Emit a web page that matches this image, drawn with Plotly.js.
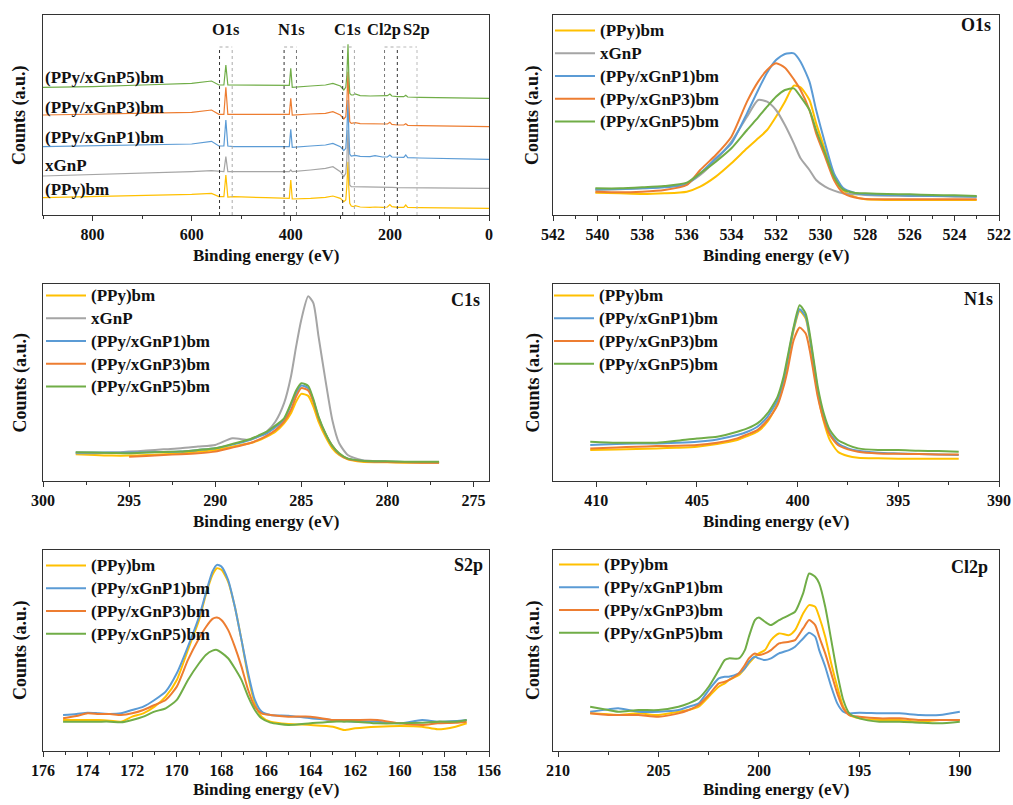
<!DOCTYPE html>
<html><head><meta charset="utf-8">
<script src="https://cdn.plot.ly/plotly-3.0.1.min.js"></script>
<style>html,body{margin:0;padding:0;background:#fff;}#chart{width:1013px;height:805px;}</style>
</head><body><div id="chart"></div>
<script>
// ---------- series names / colours ----------
const names = ['(PPy)bm','xGnP','(PPy/xGnP1)bm','(PPy/xGnP3)bm','(PPy/xGnP5)bm'];
const colors = ['#FFC000','#A5A5A5','#5B9BD5','#ED7D31','#70AD47'];

// ---------- survey (wide scan) ----------
const sv_eV  = [900,800,700,600,560,545,535,531,527,515,450,410,403,400,397,360,330,315,300,293,289,287,285.5,284.5,283,281,278,274,270,260,240,230,215,205,200,196,185,172,168,164,140,100,50,0];
const sv_PPy = [52,55,58,62,65,55,55,120,54,55,52,50,50,105,48,50,53,57,50,40,45,85,145,160,85,35,27,25,28,24,23,24,23,24,31,25,23,23,30,23,22,22,21,20];
const sv_xGnP= [117,121,125,130,133,130,130,175,130,130,130,130,130,135,130,135,140,145,130,115,125,165,235,255,175,90,85,85,85,84,83,83,83,83,83,83,82,82,82,82,81,81,80,80];
const sv_P1  = [205,207,210,213,221,207,207,285,207,205,205,205,205,257,203,207,210,215,205,193,200,245,315,345,255,183,177,177,179,176,175,178,174,174,180,174,173,173,180,172,171,170,169,167];
const sv_P3  = [300,302,305,308,315,302,302,383,302,302,302,302,302,350,300,303,305,310,300,288,295,335,405,430,345,280,275,275,277,274,273,273,272,273,278,272,270,270,274,269,268,267,266,265];
const sv_P5  = [383,385,390,395,402,390,390,450,390,390,390,389,389,440,383,387,390,395,387,375,383,415,485,512,425,365,360,360,363,358,357,357,357,358,363,357,355,355,359,354,353,352,351,350];

// ---------- O1s ----------
const o_eV   = [540.1,539,538,537,536,535.4,534.7,534,533.3,532.8,532.4,532,531.6,531.2,530.9,530.5,530.2,529.8,529.4,529,528.5,528,527,526,525,524,523];
const o_PPy  = [67,65,63,65,70,85,115,155,200,230,255,295,340,388,383,345,275,195,115,75,55,47,45,45,45,45,45];
const o_xGnP = [75,77,80,85,95,120,165,220,295,345,340,315,270,215,170,135,105,85,73,65,62,60,58,57,57,55,55];
const o_P1   = [77,78,80,83,92,125,170,215,305,375,427,465,483,485,460,400,315,215,125,82,67,62,60,58,57,57,55];
const o_P3   = [70,68,70,75,90,135,180,235,340,400,435,455,442,407,375,315,245,175,105,67,53,48,47,47,47,47,47];
const o_P5   = [80,80,83,87,97,125,160,200,255,293,325,355,375,380,355,315,255,185,115,77,67,65,63,62,60,59,57];

// ---------- C1s ----------
const c_eV   = [298.1,297,296,295,294,293,292,291,290,289,288,287.5,287,286.5,286,285.6,285.3,285,284.6,284.3,284,283.6,283.2,282.8,282.3,281.5,280,279,278,277];
const c_PPy  = [80,78,76,76,78,80,83,88,93,103,113,121,133,148,173,203,238,261,255,223,178,133,98,78,65,58,56,55,55,55];
const c_xGnP = [83,83,85,88,91,95,98,103,108,128,123,133,148,178,233,313,403,483,553,533,433,303,183,113,78,63,58,57,56,55];
const c_P1   = [85,85,85,85,86,87,88,93,98,109,123,133,143,161,183,228,263,286,278,241,191,141,105,81,67,61,58,57,57,57];
const c_P3   = [null,null,null,73,75,78,80,83,88,100,113,123,136,153,178,213,253,278,271,238,188,141,105,81,66,60,57,56,55,55];
const c_P5   = [86,85,84,83,85,87,88,93,98,111,125,136,148,166,188,233,271,293,285,245,193,143,105,83,67,61,59,58,58,58];

// ---------- N1s ----------
const n_eV   = [410.3,409,408,407,406,405,404,403,402.5,402,401.5,401,400.7,400.5,400.2,399.9,399.6,399.4,399.2,399,398.7,398.4,398,397.5,397,396,395,394,393,392];
const n_PPy  = [93,95,96,98,100,103,111,123,135,148,178,233,293,353,453,511,488,428,343,263,178,123,88,75,70,68,67,67,67,67];
const n_P1   = [108,111,113,113,115,118,125,138,148,163,193,243,303,363,458,516,493,433,353,273,193,143,113,98,91,85,83,81,80,78];
const n_P3   = [98,101,103,105,106,108,115,128,140,153,183,228,283,333,423,461,443,393,323,253,183,138,108,95,88,83,82,81,80,80];
const n_P5   = [118,115,115,115,121,128,133,148,158,173,203,253,313,373,463,528,503,443,363,283,203,153,123,108,98,93,93,91,90,88];

// ---------- S2p ----------
const s_eV   = [175.1,174.5,174,173.5,173,172.5,172,171.5,171,170.5,170,169.5,169,168.7,168.4,168.2,168,167.7,167.4,167.1,166.8,166.5,166.2,165.8,165,164,163,162.5,162,161,160,159,158.3,157.5,157];
const s_PPy  = [93,93,93,93,91,88,103,113,133,163,213,303,393,468,528,548,543,508,433,333,223,143,103,88,81,78,73,63,68,73,75,73,65,73,83];
const s_P1   = [108,111,115,113,111,113,123,133,153,178,233,313,403,473,538,558,553,513,433,333,233,153,118,108,106,98,93,90,88,88,83,93,88,90,93];
const s_P3   = [98,105,113,111,111,108,113,123,138,153,193,273,338,371,396,400,393,363,313,253,183,133,113,108,103,103,93,93,93,93,83,78,83,85,88];
const s_P5   = [88,88,88,88,88,86,93,103,118,128,153,213,263,288,301,303,295,278,248,213,163,123,98,85,78,83,88,88,88,83,83,85,88,88,93];

// ---------- Cl2p ----------
const l_eV   = [208.4,207.5,207,206,205,204,203.5,203,202.5,202,201.7,201.5,201,200.7,200.5,200.2,200,199.7,199.4,199,198.5,198.2,197.8,197.5,197.2,197,196.7,196.4,196.1,195.8,195.5,195,194,193,192,191,190];
const l_PPy  = [113,110,108,113,108,118,123,133,163,193,203,213,228,248,263,283,293,303,333,353,348,363,413,438,433,403,343,263,193,133,108,98,93,93,88,93,93];
const l_P1   = [118,125,128,118,118,123,133,143,183,218,223,223,233,248,268,283,278,273,278,293,303,313,338,355,343,303,253,193,143,118,113,115,113,113,108,108,118];
const l_P3   = [113,108,108,108,103,113,123,138,168,203,208,213,233,258,278,293,288,293,303,323,328,333,368,393,378,343,293,233,173,128,108,103,98,98,93,93,93];
const l_P5   = [133,123,118,123,123,133,143,158,193,243,273,278,278,303,343,393,401,388,378,393,408,418,473,533,523,503,433,333,233,153,113,98,88,88,85,83,88];

// ---------- tick / label texts ----------
const xTitle = 'Binding energy (eV)';
const yTitle = 'Counts (a.u.)';
const panelLabels = ['O1s','C1s','N1s','S2p','Cl2p'];
const surveyPeakLabels = [['O1s',531.6],['N1s',398],['C1s',285]];

// ================= build =================
const W = 1013, H = 805;
const FONT = 'Liberation Serif, Times New Roman, serif';
const TXT = '#111';
const fx = p => p / W, fy = p => 1 - p / H;

const traces = [];
function add(x, y, idx, ax, legend, opts) {
  opts = opts || {};
  traces.push({
    type: 'scatter', mode: 'lines', x: x, y: y,
    name: '<span style="font-size:17px">' + names[idx] + '</span>',
    line: { color: colors[idx], width: opts.width || 2, shape: opts.shape || 'spline', smoothing: 0.6 },
    xaxis: 'x' + ax, yaxis: 'y' + ax,
    showlegend: !!legend, legend: legend || 'legend',
    hoverinfo: 'skip'
  });
}
// survey
const svs = [sv_PPy, sv_xGnP, sv_P1, sv_P3, sv_P5];
svs.forEach((s, i) => add(sv_eV, s, i, '', null, { width: 1.2, shape: 'linear' }));
// O1s
[o_PPy, o_xGnP, o_P1, o_P3, o_P5].forEach((s, i) => add(o_eV, s, i, '2', 'legend'));
// C1s
[c_PPy, c_xGnP, c_P1, c_P3, c_P5].forEach((s, i) => add(c_eV, s, i, '3', 'legend2'));
// N1s
[[n_PPy,0],[n_P1,2],[n_P3,3],[n_P5,4]].forEach(p => add(n_eV, p[0], p[1], '4', 'legend3'));
// S2p
[[s_PPy,0],[s_P1,2],[s_P3,3],[s_P5,4]].forEach(p => add(s_eV, p[0], p[1], '5', 'legend4'));
// Cl2p
[[l_PPy,0],[l_P1,2],[l_P3,3],[l_P5,4]].forEach(p => add(l_eV, p[0], p[1], '6', 'legend5'));
// fix first survey axis id
traces.forEach(t => { if (t.xaxis === 'x') {} });

const LEFT = [43, 489], RIGHT = [553, 999];
const ROWS = [[15, 215], [284, 481], [549.5, 751]];

function xa(col, row, range, dtick, minor, anchor) {
  return {
    domain: [fx(col[0]), fx(col[1])], range: range, autorange: false,
    tick0: 0, dtick: dtick, ticks: 'outside', ticklen: 5, tickwidth: 1, tickcolor: '#333',
    showline: true, linecolor: '#333', linewidth: 1, mirror: true,
    showgrid: false, zeroline: false, anchor: anchor,
    tickfont: { size: 16, color: TXT, family: FONT, weight: 'bold' },
    minor: { tick0: 0, dtick: minor, ticks: 'outside', ticklen: 3, tickwidth: 1, tickcolor: '#333', showgrid: false }
  };
}
function ya(row, top, anchor) {
  return {
    domain: [fy(row[1]), fy(row[0])], range: [0, top], autorange: false,
    showticklabels: false, ticks: '', showline: true, linecolor: '#333', linewidth: 1,
    mirror: true, showgrid: false, zeroline: false, anchor: anchor
  };
}

function legendAt(xpx, ypx) {
  return { x: fx(xpx), y: fy(ypx), xanchor: 'left', yanchor: 'top', bgcolor: 'rgba(0,0,0,0)',
    borderwidth: 0, itemwidth: 40, traceorder: 'normal', tracegroupgap: 0,
    font: { size: 15.2, color: TXT, family: FONT, weight: 'bold' } };
}

const ann = [];
const LC = 266, RC = 776;
[[LC, 255], [RC, 255], [LC, 521], [RC, 521], [LC, 789], [RC, 789]].forEach(p => ann.push({
  text: xTitle, xref: 'paper', yref: 'paper', x: fx(p[0]), y: fy(p[1]), showarrow: false,
  xanchor: 'center', yanchor: 'middle', font: { size: 17, color: TXT, family: FONT, weight: 'bold' }
}));
[[20, 115], [533, 115], [20, 382.5], [533, 382.5], [20, 650], [533, 650]].forEach(p => ann.push({
  text: yTitle, xref: 'paper', yref: 'paper', x: fx(p[0]), y: fy(p[1]), showarrow: false, textangle: -90,
  xanchor: 'center', yanchor: 'middle', font: { size: 18, color: TXT, family: FONT, weight: 'bold' }
}));
// panel labels
[[993, 25], [482, 300], [995, 299], [485, 565], [990, 567]].forEach((p, i) => ann.push({
  text: panelLabels[i], xref: 'paper', yref: 'paper', x: fx(p[0]), y: fy(p[1]), showarrow: false,
  xanchor: 'right', yanchor: 'middle', font: { size: 18, color: TXT, family: FONT, weight: 'bold' }
}));
// survey curve labels
const svLabelY = [78, 150, 234, 324, 414];
names.forEach((n, i) => ann.push({
  text: n, xref: 'paper', yref: 'y', x: fx(43), y: svLabelY[i], showarrow: false,
  xanchor: 'left', yanchor: 'middle', font: { size: 17, color: TXT, family: FONT, weight: 'bold' }
}));
// survey peak labels
surveyPeakLabels.forEach(p => ann.push({
  text: p[0], xref: 'x', yref: 'y', x: p[1], y: 558, showarrow: false,
  xanchor: 'center', yanchor: 'middle', font: { size: 16.5, color: TXT, family: FONT, weight: 'bold' }
}));
ann.push({ text: 'Cl2p', xref: 'x', yref: 'y', x: 176.3, y: 558, showarrow: false, xanchor: 'right', borderpad: 0,
  yanchor: 'middle', font: { size: 16.5, color: TXT, family: FONT, weight: 'bold' } });
ann.push({ text: 'S2p', xref: 'x', yref: 'y', x: 176.3, y: 558, showarrow: false, xanchor: 'left', borderpad: 0,
  yanchor: 'middle', font: { size: 16.5, color: TXT, family: FONT, weight: 'bold' } });

// survey dotted windows
const shapes = [];
const TOP = 504;
function vline(x, color) { shapes.push({ type: 'line', xref: 'x', yref: 'y', x0: x, x1: x, y0: 0, y1: TOP, line: { color: color, width: 1, dash: 'dot' } }); }
function hline(a, b, color) { shapes.push({ type: 'line', xref: 'x', yref: 'y', x0: a, x1: b, y0: TOP, y1: TOP, line: { color: color, width: 1, dash: 'dot' } }); }
const DARK = '#333', LIGHT = '#aaa';
vline(543.8, DARK); vline(518.2, LIGHT); hline(543.8, 518.2, LIGHT);
vline(413.5, DARK); vline(388.5, '#777'); hline(413.5, 388.5, LIGHT);
vline(295.3, DARK); vline(271.6, LIGHT); hline(295.3, 271.6, LIGHT);
vline(210.8, '#777'); vline(185, DARK); hline(210.8, 185, LIGHT);
vline(145.3, '#bbb'); hline(185, 145.3, '#bbb');

const layout = {
  width: W, height: H, margin: { l: 0, r: 0, t: 0, b: 0 },
  paper_bgcolor: '#fff', plot_bgcolor: '#fff',
  font: { family: FONT, color: TXT, weight: 'bold' },
  showlegend: true, hovermode: false,
  xaxis: xa(LEFT, ROWS[0], [900, 0], 200, 100, 'y'),
  yaxis: ya(ROWS[0], 600, 'x'),
  xaxis2: xa(RIGHT, ROWS[0], [542, 522], 2, 1, 'y2'),
  yaxis2: ya(ROWS[0], 600, 'x2'),
  xaxis3: xa(LEFT, ROWS[1], [300, 274.1], 5, 2.5, 'y3'),
  yaxis3: ya(ROWS[1], 590, 'x3'),
  xaxis4: xa(RIGHT, ROWS[1], [412.15, 390], 5, 2.5, 'y4'),
  yaxis4: ya(ROWS[1], 592, 'x4'),
  xaxis5: xa(LEFT, ROWS[2], [176, 156], 2, 1, 'y5'),
  yaxis5: ya(ROWS[2], 604, 'x5'),
  xaxis6: xa(RIGHT, ROWS[2], [210.25, 188.05], 5, 2.5, 'y6'),
  yaxis6: ya(ROWS[2], 605, 'x6'),
  legend: legendAt(550, 14),
  legend2: legendAt(41, 279),
  legend3: legendAt(549, 279),
  legend4: legendAt(41, 549),
  legend5: legendAt(554, 548),
  annotations: ann, shapes: shapes
};
// survey traces use 'x'/'y'
traces.forEach(t => { if (t.xaxis === 'x') { t.xaxis = 'x'; t.yaxis = 'y'; } });

Plotly.newPlot('chart', traces, layout, { staticPlot: true, displayModeBar: false });
</script></body></html>
